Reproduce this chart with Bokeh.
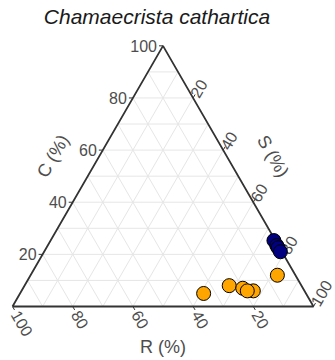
import numpy as np
from bokeh.plotting import figure
from bokeh.models import Range1d
from bokeh.core.properties import value
from bokeh.embed import file_html
from bokeh.resources import INLINE

# Composition (%) of each sample: R, S and C components
orange_R = [34, 24, 20, 17, 19, 6]
orange_S = [61, 68, 73, 77, 75, 82]
orange_C = [5, 8, 7, 6, 6, 12]

navy_R = [0.5, 0.5, 0.5, 0.5]
navy_S = [74.2, 76.1, 77.0, 78.5]
navy_C = [25.3, 23.4, 22.5, 21.0]

tick_values = [20, 40, 60, 80, 100]
grid_values = [10, 20, 30, 40, 50, 60, 70, 80, 90]

title_text = "Chamaecrista cathartica"
label_R, label_S, label_C = "R (%)", "S (%)", "C (%)"

FONT = value("Liberation Sans")
H = np.sqrt(3) / 2
PX = 1 / 301.0  # one screen pixel in triangle units


def tern(r, s, c):
    r, s, c = (np.asarray(a, dtype=float) for a in (r, s, c))
    t = r + s + c
    return s / t + (c / t) / 2, (c / t) * H


p = figure(width=335, height=360, output_backend="svg", toolbar_location=None,
           x_axis_type=None, y_axis_type=None, min_border=0,
           x_range=Range1d(-12 * PX, 323 * PX), y_range=Range1d(-54 * PX, 306 * PX))
p.outline_line_color = None
p.grid.visible = False
p.background_fill_color = "white"

# triangular grid
xs, ys = [], []
for k in grid_values:
    for a, b in (((100 - k, 0, k), (0, 100 - k, k)),
                 ((100 - k, k, 0), (0, k, 100 - k)),
                 ((k, 100 - k, 0), (k, 0, 100 - k))):
        x0, y0 = tern(*a)
        x1, y1 = tern(*b)
        xs.append([float(x0), float(x1)])
        ys.append([float(y0), float(y1)])
p.multi_line(xs, ys, line_color="#E6E6E6", line_width=1)

# triangle border
bx, by = tern([100, 0, 0, 100], [0, 100, 0, 0], [0, 0, 100, 0])
p.line(bx, by, line_color="#333333", line_width=1.8)

# ticks and tick labels for the three axes
c60, s60 = 0.5, H
axes = [
    # (edge points, tick direction, text angle, alignment, label gap in px)
    (tern([100 - v for v in tick_values], [0] * 5, tick_values), (-1.0, 0.0), 0.0, "right", 6),
    (tern(tick_values, [100 - v for v in tick_values], [0] * 5), (c60, -s60), -np.pi / 3, "left", 6),
    (tern([0] * 5, tick_values, [100 - v for v in tick_values]), (c60, s60), np.pi / 3, "left", 2),
]
for (ex, ey), (dx, dy), ang, align, gap in axes:
    tx = ex + dx * 4 * PX
    ty = ey + dy * 4 * PX
    p.segment(ex, ey, tx, ty, line_color="#333333", line_width=1)
    p.text(ex + dx * gap * PX, ey + dy * gap * PX, text=[str(v) for v in tick_values],
           angle=ang, text_align=align, text_baseline="middle",
           text_font=FONT, text_font_size="16px", text_color="#4D4D4D")

# axis titles, 40 px outside each edge midpoint
d = 40 * PX
title_style = dict(text_align="center", text_baseline="middle", text_font=FONT,
                   text_font_size="18px", text_color="#4D4D4D")
mx, my = tern(50, 0, 50)
p.text([float(mx) - H * d], [float(my) + 0.5 * d], text=[label_C], angle=np.pi / 3, **title_style)
mx, my = tern(0, 50, 50)
p.text([float(mx) + H * d], [float(my) + 0.5 * d], text=[label_S], angle=-np.pi / 3, **title_style)
mx, my = tern(50, 50, 0)
p.text([float(mx)], [float(my) - d], text=[label_R], **title_style)

# samples
ox, oy = tern(orange_R, orange_S, orange_C)
p.scatter(ox, oy, size=14, fill_color="#FFA500", line_color="black", line_width=1)
nx, ny = tern(navy_R, navy_S, navy_C)
p.scatter(nx, ny, size=14, fill_color="#000080", line_color="black", line_width=1)

# title above the triangle
p.text([144.5 * PX], [290 * PX], text=[title_text],
       text_align="center", text_baseline="middle", text_font=FONT,
       text_font_style="italic", text_font_size="21px", text_color="#1A1A1A")

open("out.html", "w").write(file_html(p, INLINE))
